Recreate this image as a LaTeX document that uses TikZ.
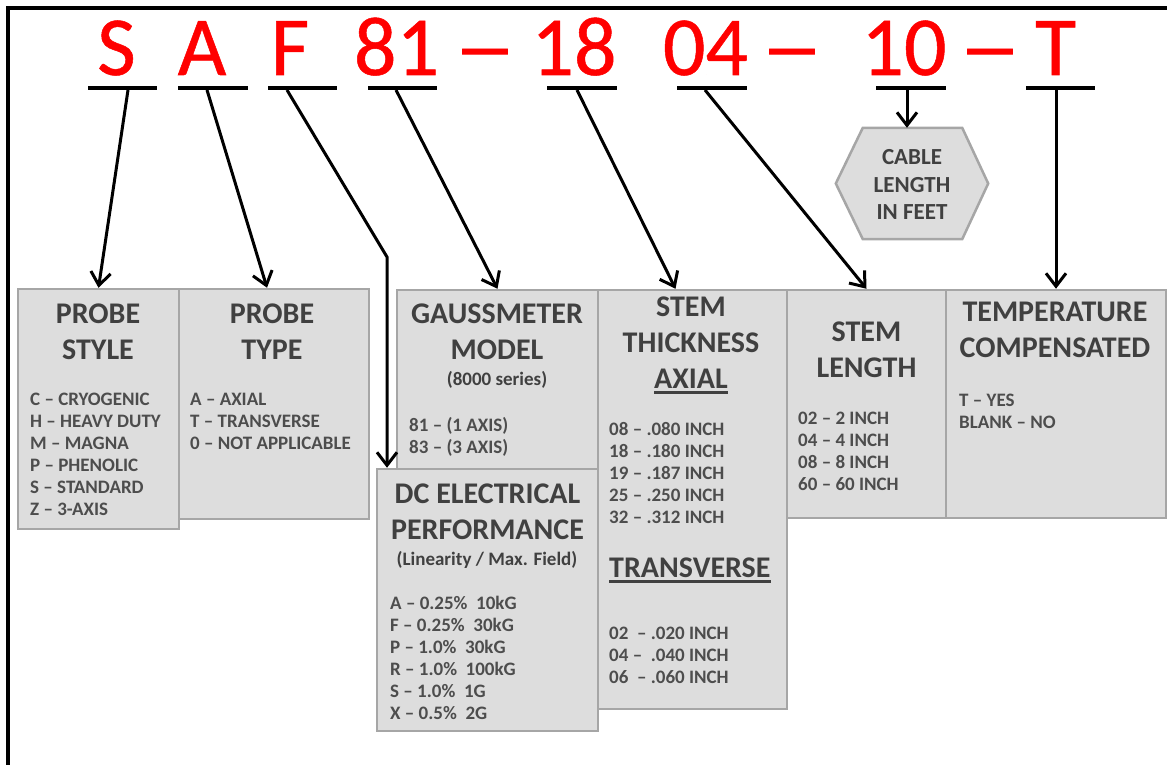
\documentclass[tikz,border=0pt]{standalone}
\usepackage{fontspec}
\usepackage{graphicx}
\setmainfont{Carlito}
\newfontfamily\codefont[FakeBold=0.6]{Carlito}
\usetikzlibrary{arrows.meta,calc}

\definecolor{codered}{RGB}{255,0,0}
\definecolor{boxfill}{RGB}{221,221,221}
\definecolor{boxline}{RGB}{166,166,166}
\definecolor{titlegray}{RGB}{64,64,64}
\definecolor{itemgray}{RGB}{77,77,77}

\begin{document}
\begin{tikzpicture}[
    x=1pt, y=-1pt,
    >={Straight Barb[length=13pt,width=20pt]},
    code/.style={
        anchor=base,
        inner sep=0pt,
        text=codered,
        font=\codefont\fontsize{84}{90}\selectfont
    },
    uline/.style={
        line width=4pt
    },
    link/.style={
        ->,
        line width=3pt
    },
    infobox/.style={
        draw=boxline,
        fill=boxfill,
        line width=2.5pt,
        inner sep=0pt
    },
    title/.style={
        anchor=base,
        align=center,
        inner sep=0pt,
        text=titlegray,
        font=\bfseries\fontsize{30}{36}\selectfont
    },
    subtitle/.style={
        anchor=base,
        inner sep=0pt,
        text=titlegray,
        font=\bfseries\fontsize{19}{22}\selectfont
    },
    items/.style={
        anchor=base west,
        align=left,
        inner sep=0pt,
        text=itemgray,
        font=\bfseries\fontsize{19}{22}\selectfont
    },
    hextext/.style={
        anchor=base,
        align=center,
        inner sep=0pt,
        text=titlegray,
        font=\bfseries\fontsize{23}{27.5}\selectfont
    },
    titlerule/.style={
        draw=titlegray,
        line width=2.4pt
    }
]

\useasboundingbox (0,0) rectangle (1167,765);

% ------------------------------------------------
% Frame
% ------------------------------------------------

\draw[line width=3.5pt] (8,765) -- (8,8) -- (1167,8);

% ------------------------------------------------
% Part number
% ------------------------------------------------

\node[code] (cS) at (116.5, 75) {S};
\node[code] (cA) at (202, 75) {A};
\node[code] (cF) at (290, 75) {F};
\node[code] (c81) at (396.5, 75) {81};
\node[code] (dash1) at (485, 75) {\scalebox{1.5}[1]{–}};
\node[code] (c18) at (574, 75) {18};
\node[code] (c04) at (705.5, 75) {04};
\node[code] (dash2) at (792, 75) {\scalebox{1.5}[1]{–}};
\node[code] (c10) at (904, 75) {10};
\node[code] (dash3) at (990, 75) {\scalebox{1.5}[1]{–}};
\node[code] (cT) at (1055.5, 75) {T};

\draw[uline] (88, 88) -- (157, 88);
\draw[uline] (178, 88) -- (248, 88);
\draw[uline] (268, 88) -- (337, 88);
\draw[uline] (368, 88) -- (437, 88);
\draw[uline] (547, 88) -- (617, 88);
\draw[uline] (677, 88) -- (747, 88);
\draw[uline] (876, 88) -- (946, 88);
\draw[uline] (1026, 88) -- (1095, 88);

\coordinate (uS) at (128, 90);
\coordinate (uA) at (207, 90);
\coordinate (uF) at (287, 90);
\coordinate (bendF) at (387, 257);
\coordinate (u81) at (396, 90);
\coordinate (u18) at (577, 90);
\coordinate (u04) at (705, 90);
\coordinate (u10) at (907, 90);
\coordinate (uT) at (1056, 90);

% ------------------------------------------------
% Cable length
% ------------------------------------------------

\node[minimum width=152, minimum height=111, inner sep=0pt] (cable)
    at (912, 183.5) {};
\draw[infobox]
    (cable.west)
    -- ($(cable.north west)+(27,0)$)
    -- ($(cable.north east)+(-26,0)$)
    -- (cable.east)
    -- ($(cable.south east)+(-26,0)$)
    -- ($(cable.south west)+(27,0)$)
    -- cycle;
\node[hextext] (cabletext) at (912, 219.5)
    {CABLE\\LENGTH\\IN FEET};

% ------------------------------------------------
% Boxes
% ------------------------------------------------

\node[infobox, minimum width=161, minimum height=240] (pstyle)
    at (98.5, 409) {};
\node[infobox, minimum width=190, minimum height=230] (ptype)
    at (274, 404) {};
\node[infobox, minimum width=201, minimum height=230] (gauss)
    at (497.5, 405) {};
\node[infobox, minimum width=189, minimum height=419] (thick)
    at (692.5, 499.5) {};
\node[infobox, minimum width=159, minimum height=228] (slength)
    at (866.5, 404) {};
\node[infobox, minimum width=220, minimum height=228] (tcomp)
    at (1056, 404) {};
\node[infobox, minimum width=221, minimum height=262] (dcperf)
    at (487.5, 600) {};

% Probe style
\node[title] (pstyletitle) at (98, 359.5) {PROBE\\STYLE};
\node[items] (pstyleitems) at (30, 515)
    {C – CRYOGENIC\\H – HEAVY DUTY\\M – MAGNA\\P – PHENOLIC\\S – STANDARD\\Z – 3-AXIS};

% Probe type
\node[title] (ptypetitle) at (272, 359.5) {PROBE\\TYPE};
\node[items] (ptypeitems) at (190, 449)
    {A – AXIAL\\T – TRANSVERSE\\0 – NOT APPLICABLE};

% Gaussmeter model
\node[title] (gausstitle) at (497, 359.5) {GAUSSMETER\\MODEL};
\node[subtitle] (gausssub) at (497, 385) {(8000 series)};
\node[items] (gaussitems) at (409, 453)
    {81 – (1 AXIS)\\83 – (3 AXIS)};

% Stem thickness
\node[title] (thicktitle) at (691, 352.5) {STEM\\THICKNESS};
\node[title] (axialtitle) at (691, 388.5) {AXIAL};
\draw[titlerule] ($(axialtitle.base west)+(0,4)$) -- ($(axialtitle.base east)+(0,4)$);
\node[items] (axialitems) at (609, 523)
    {08 – .080 INCH\\18 – .180 INCH\\19 – .187 INCH\\25 – .250 INCH\\32 – .312 INCH};
\node[title, anchor=base west] (transtitle) at (609, 577.5) {TRANSVERSE};
\draw[titlerule] ($(transtitle.base west)+(0,4)$) -- ($(transtitle.base east)+(0,4)$);
\node[items] (transitems) at (609, 683)
    {02\ \ – .020 INCH\\04 –\ \ .040 INCH\\06\ \ – .060 INCH};

% Stem length
\node[title] (slengthtitle) at (866.5, 377.5) {STEM\\LENGTH};
\node[items] (slengthitems) at (798, 490)
    {02 – 2 INCH\\04 – 4 INCH\\08 – 8 INCH\\60 – 60 INCH};

% Temperature compensated
\node[title] (tcomptitle) at (1055, 357.5) {TEMPERATURE\\COMPENSATED};
\node[items] (tcompitems) at (959, 428)
    {T – YES\\BLANK – NO};

% DC electrical performance
\node[title] (dctitle) at (487.5, 539.5) {DC ELECTRICAL\\PERFORMANCE};
\node[subtitle] (dcsub) at (487, 565) {(Linearity / Max. Field)};
\node[items] (dcitems) at (390, 719)
    {A – 0.25\%\ \ 10kG\\F – 0.25\%\ \ 30kG\\P – 1.0\%\ \ 30kG\\R – 1.0\%\ \ 100kG\\S – 1.0\%\ \ 1G\\X – 0.5\%\ \ 2G};

% ------------------------------------------------
% Connections
% ------------------------------------------------

\draw[link] (uS) -- (pstyle.north);
\draw[link] (uA) -- ($(ptype.north)+(-7,0)$);
\draw[link] (uF) -- (bendF) -- (bendF |- dcperf.north);
\draw[link] (u81) -- (gauss.north);
\draw[link] (u18) -- ($(thick.north)+(-17,0)$);
\draw[link] (u04) -- (slength.north);
\draw[link] (u10) -- (u10 |- cable.north);
\draw[link] (uT) -- (uT |- tcomp.north);

\end{tikzpicture}
\end{document}
